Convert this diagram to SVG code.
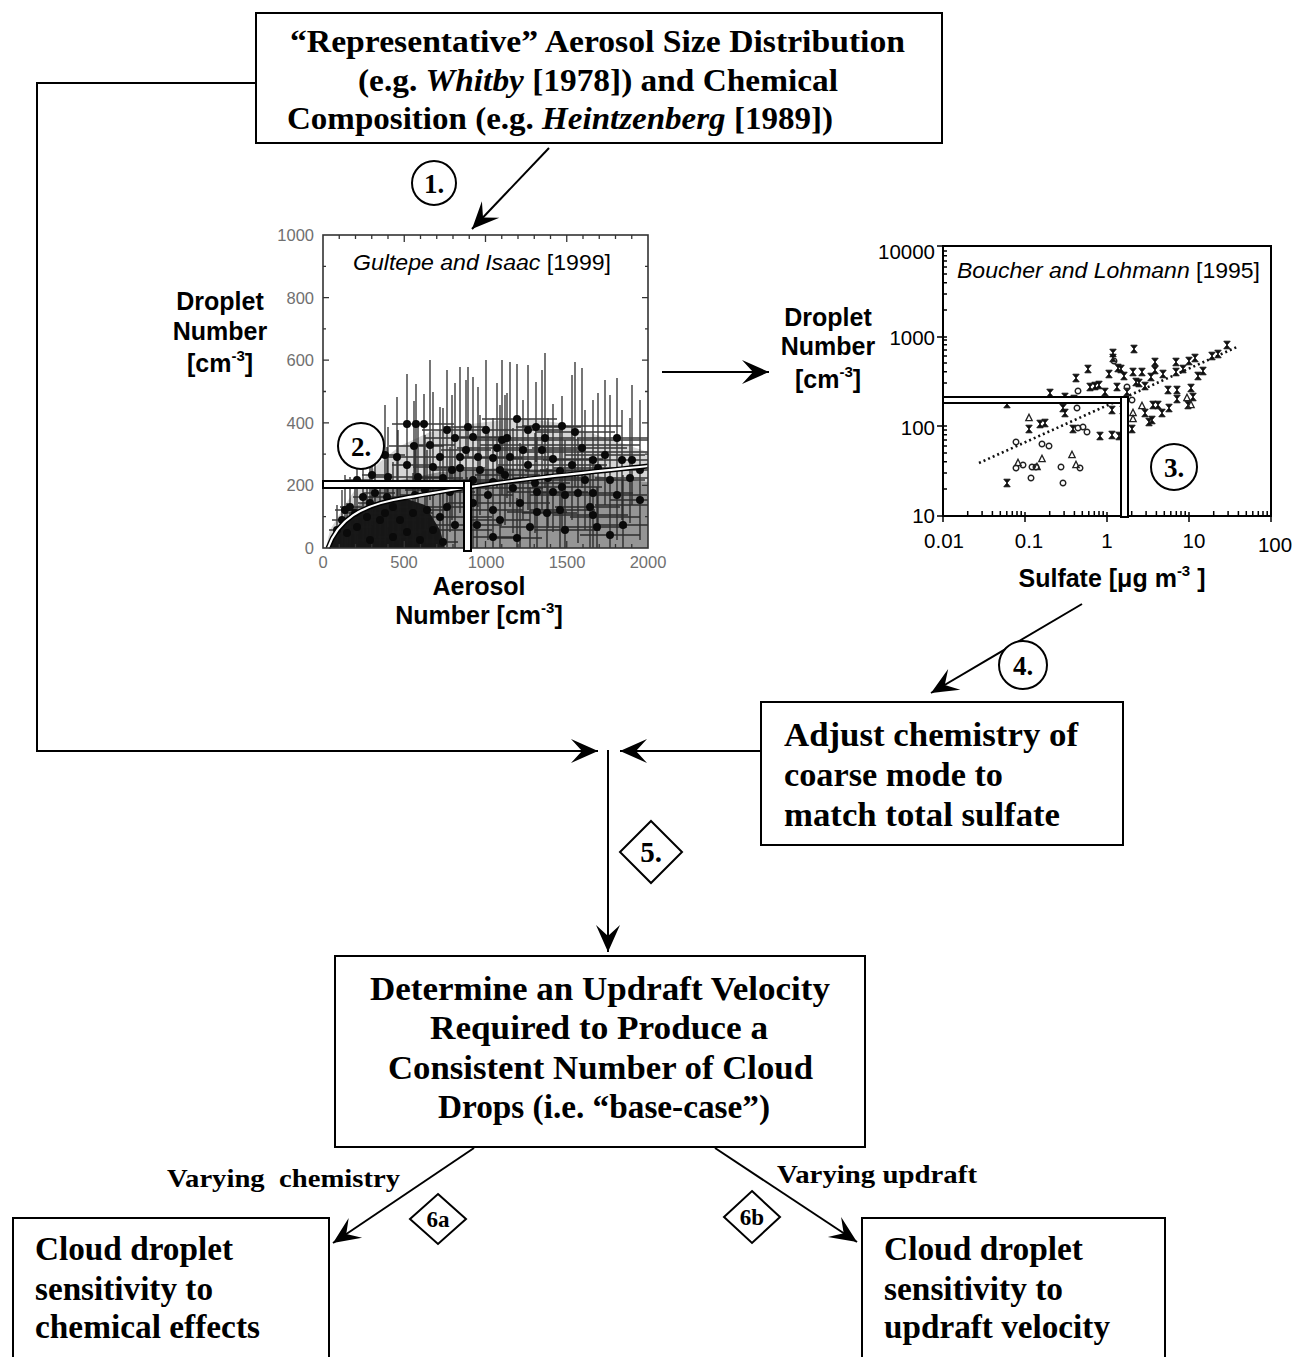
<svg xmlns="http://www.w3.org/2000/svg" xmlns:xlink="http://www.w3.org/1999/xlink" width="1295" height="1357" viewBox="0 0 1295 1357">
<style>
.box{fill:#fff;stroke:#000;stroke-width:2}
.bt{font-family:"Liberation Serif","Times New Roman",serif;font-weight:bold;fill:#000}
.it{font-style:italic}
.conn{fill:none;stroke:#000;stroke-width:2}
.arr{marker-end:url(#ah)}
.badge{fill:#fff;stroke:#000;stroke-width:2}
.sans{font-family:"Liberation Sans",Arial,sans-serif}
.axl{font-family:"Liberation Sans",Arial,sans-serif;font-weight:bold;font-size:25px;fill:#000;text-anchor:middle}
.tk1{font-family:"Liberation Sans",Arial,sans-serif;font-size:16.5px;fill:#707070}
.tk2{font-family:"Liberation Sans",Arial,sans-serif;font-size:20.5px;fill:#000}
.eb{fill:none;stroke:#1a1a1a;stroke-width:1.4;stroke-opacity:0.85}
.dots{fill:none;stroke:#0a0a0a;stroke-width:8;stroke-linecap:round}
.bar{fill:#fff;stroke:#000;stroke-width:2}
</style>
<defs>
<marker id="ah" viewBox="-28 -14 30 28" refX="0" refY="0" markerWidth="30" markerHeight="28" markerUnits="userSpaceOnUse" orient="auto">
<path d="M0,0 L-27,-12 L-16,0 L-27,12 Z" fill="#000"/>
</marker>
<path id="hg" d="M-3.2,-3.8H3.2L-3.2,3.8H3.2Z" fill="#111" stroke="#111" stroke-width="0.9"/>
<circle id="oc" r="2.8" fill="none" stroke="#222" stroke-width="1.4"/>
<path id="tr" d="M0,-3.8L3.2,2.6H-3.2Z" fill="none" stroke="#222" stroke-width="1.3"/>
</defs>

<g id="connectors">
<polyline class="conn arr" points="256,83 37,83 37,751 598,751"/>
<line class="conn arr" x1="549" y1="148" x2="472" y2="229"/>
<line class="conn arr" x1="662" y1="372" x2="769" y2="372"/>
<line class="conn arr" x1="1082" y1="604" x2="931" y2="693"/>
<line class="conn arr" x1="761" y1="751" x2="620" y2="751"/>
<line class="conn arr" x1="608" y1="750" x2="608" y2="952"/>
<line class="conn arr" x1="474" y1="1148" x2="333" y2="1243"/>
<line class="conn arr" x1="715" y1="1148" x2="857" y2="1242"/>
</g>

<g id="node-aerosol-input">
<rect class="box" x="256" y="13" width="686" height="130"/>
<text class="bt" font-size="31" x="290" y="52" textLength="615" lengthAdjust="spacingAndGlyphs">“Representative” Aerosol Size Distribution</text>
<text class="bt" font-size="31" x="358" y="91" textLength="480" lengthAdjust="spacingAndGlyphs">(e.g. <tspan class="it">Whitby</tspan> [1978]) and Chemical</text>
<text class="bt" font-size="31" x="287" y="129" textLength="546" lengthAdjust="spacingAndGlyphs">Composition (e.g. <tspan class="it">Heintzenberg</tspan> [1989])</text>
</g>

<g id="step-1">
<circle class="badge" cx="434" cy="183" r="22"/>
<text class="bt" font-size="27" x="434" y="193" text-anchor="middle">1.</text>
</g>

<g id="node-plot-gultepe">
<path d="M326,548 L330,530 L345,505 L360,482 L380,462 L400,446 L430,432 L470,424 L520,418 L560,423 L600,436 L630,446 L648,452 L648,548 Z" fill="#000" fill-opacity="0.16"/>
<path d="M326,548 L335,530 L352,510 L375,492 L400,480 L440,472 L500,468 L560,470 L610,478 L648,482 L648,548 Z" fill="#000" fill-opacity="0.3"/>
<path d="M326,548 L328,546 C338,520 360,505 404,498 L425,505 L440,530 L445,548 Z" fill="#000" fill-opacity="0.85"/>
<path class="eb" d="M407,374V464M392,424H432M416,384V474M396,424H426M424,394V484M412,424H454M468,367V457M443,427H488M517,364V469M482,419H557M562,396V466M522,426H622M536,382V462M516,427H581M507,393V498M477,438H532M455,383V483M425,438H480M473,377V517M453,437H503M414,401V481M389,446H444M497,383V488M457,448H527M523,400V520M498,450H568M542,370V510M512,450H577M582,368V488M532,448H627M397,397V507M382,457H417M440,407V517M410,457H475M460,367V497M440,457H485M478,387V507M453,457H513M493,418V518M463,458H523M510,362V507M485,457H550M553,404V509M513,459H603M593,400V515M543,460H648M622,410V520M577,460H642M632,385V505M592,460H647M407,425V505M392,465H432M433,392V517M413,467H458M460,398V513M435,468H485M480,415V515M455,470H515M500,405V520M470,470H530M560,426V526M525,471H600M598,393V528M553,468H638M372,425V525M362,475H392M418,422V517M398,477H443M443,408V513M418,478H463M473,435V525M453,480H503M493,422V522M468,482H513M535,433V533M495,483H570M562,422V532M532,487H602M610,395V520M570,480H645M630,418V523M595,478H648M450,447V532M430,492H475M513,428V533M478,488H543M537,437V542M507,492H567M553,452V532M513,492H588M578,438V543M538,493H608M593,448V538M563,493H633M363,457V542M353,497H378M370,458V543M358,503H385M375,438V538M363,493H395M387,447V537M372,497H407M393,462V542M378,507H408M385,473V548M370,513H403M400,480V548M385,520H415M427,450V545M407,510H447M447,452V547M427,507H472M473,453V548M448,503H498M493,465V548M468,510H523M520,443V548M490,503H550M537,462V548M507,512H567M547,468V548M522,513H577M560,455V548M530,510H595M590,457V548M555,507H620M593,470V548M553,515H628M623,475V548M593,525H648M597,487V548M562,527H627M467,485V548M447,530H492M477,485V548M452,525H502M493,502V548M473,537H518M517,498V548M492,538H542M443,512V548M423,542H458M420,505V548M405,540H435M393,507V548M378,537H408M370,515V548M358,540H385M347,503V548M337,533H359M337,505V548M329,530H347M342,490V548M332,520H354M357,497V548M347,527H372M355,478V548M343,513H370M350,477V548M340,507H362M367,482V548M355,517H382M380,485V548M368,520H395M407,502V548M392,532H422M433,495V548M418,530H453M413,473V548M398,513H433M440,472V548M420,517H460M467,477V548M447,517H492M500,440H648M520,452H648M480,445H640M540,470H648M595,505H648M570,517H640M385,405V500M370,455H405M425,435V530M405,490H450M452,395V520M432,470H482M488,430V540M463,495H513M505,395V525M475,475H540M528,365V510M498,465H558M548,418V528M513,478H588M572,375V520M537,465H607M585,410V530M545,480H625M605,380V505M565,455H645M617,435V540M577,495H647M640,445V540M610,500H648M357,440V530M345,480H372M345,475V548M335,510H357M398,430V540M383,485H418M430,360V500M410,445H455M447,370V490M422,430H477M486,360V490M456,430H516M528,370V490M498,430H563M575,362V487M535,432H615M617,378V493M577,438H648M500,480V548M470,520H530M530,487V548M500,527H560M565,485V548M535,530H600M610,495V548M580,535H640M455,485V548M435,525H480M415,450V545M400,495H435M565,440V540M530,495H600M640,400V520M610,470H648M545,353V488M515,438H575M502,360V495M472,440H532M466,380V500M441,450H491M388,427V527M373,477H408"/>
<path class="dots" d="M407,424h0M416,424h0M424,424h0M468,427h0M517,419h0M562,426h0M536,427h0M507,438h0M455,438h0M473,437h0M414,446h0M497,448h0M523,450h0M542,450h0M582,448h0M397,457h0M440,457h0M460,457h0M478,457h0M493,458h0M510,457h0M553,459h0M593,460h0M622,460h0M632,460h0M407,465h0M433,467h0M460,468h0M480,470h0M500,470h0M560,471h0M598,468h0M372,475h0M418,477h0M443,478h0M473,480h0M493,482h0M535,483h0M562,487h0M610,480h0M630,478h0M450,492h0M513,488h0M537,492h0M553,492h0M578,493h0M593,493h0M363,497h0M370,503h0M375,493h0M387,497h0M393,507h0M385,513h0M400,520h0M427,510h0M447,507h0M473,503h0M493,510h0M520,503h0M537,512h0M547,513h0M560,510h0M590,507h0M593,515h0M623,525h0M597,527h0M467,530h0M477,525h0M493,537h0M517,538h0M443,542h0M420,540h0M393,537h0M370,540h0M347,533h0M337,530h0M342,520h0M357,527h0M355,513h0M350,507h0M367,517h0M380,520h0M407,532h0M433,530h0M413,513h0M440,517h0M467,517h0M385,455h0M425,490h0M452,470h0M488,495h0M505,475h0M528,465h0M548,478h0M572,465h0M585,480h0M605,455h0M617,495h0M640,500h0M357,480h0M345,510h0M398,485h0M430,445h0M447,430h0M486,430h0M528,430h0M575,432h0M617,438h0M500,520h0M530,527h0M565,530h0M610,535h0M455,525h0M415,495h0M565,495h0M640,470h0M545,438h0M502,440h0M466,450h0M388,477h0"/>
<path d="M328,548 C338,520 360,505 404,498 C440,492 470,486 520,480 C570,474 610,470 648,466" fill="none" stroke="#000" stroke-width="5"/>
<path d="M328,548 C338,520 360,505 404,498 C440,492 470,486 520,480 C570,474 610,470 648,466" fill="none" stroke="#fff" stroke-width="2.2"/>
<rect x="323" y="235" width="325" height="313" fill="none" stroke="#333" stroke-width="1.6"/>
<path d="M323,516.7h3M323,454.1h3M323,391.5h3M323,328.9h3M323,266.3h3M323,485.4h6M323,422.8h6M323,360.2h6M323,297.6h6M648,516.7h-3M648,454.1h-3M648,391.5h-3M648,328.9h-3M648,266.3h-3M648,485.4h-6M648,422.8h-6M648,360.2h-6M648,297.6h-6M339.25,548v-4M355.5,548v-4M371.75,548v-4M388,548v-4M420.5,548v-4M436.75,548v-4M453,548v-4M469.25,548v-4M501.75,548v-4M518,548v-4M534.25,548v-4M550.5,548v-4M583,548v-4M599.25,548v-4M615.5,548v-4M631.75,548v-4M404.25,548v-7M485.5,548v-7M566.75,548v-7M339.25,235v4M355.5,235v4M371.75,235v4M388,235v4M420.5,235v4M436.75,235v4M453,235v4M469.25,235v4M501.75,235v4M518,235v4M534.25,235v4M550.5,235v4M583,235v4M599.25,235v4M615.5,235v4M631.75,235v4M404.25,235v7M485.5,235v7M566.75,235v7" fill="none" stroke="#333" stroke-width="1.3"/>
<rect class="bar" x="323" y="481" width="142" height="7"/>
<rect class="bar" x="464" y="481" width="7" height="70"/>
<text class="tk1" x="314" y="241" text-anchor="end">1000</text>
<text class="tk1" x="314" y="304" text-anchor="end">800</text>
<text class="tk1" x="314" y="366" text-anchor="end">600</text>
<text class="tk1" x="314" y="429" text-anchor="end">400</text>
<text class="tk1" x="314" y="491" text-anchor="end">200</text>
<text class="tk1" x="314" y="554" text-anchor="end">0</text>
<text class="tk1" x="323" y="568" text-anchor="middle">0</text>
<text class="tk1" x="404" y="568" text-anchor="middle">500</text>
<text class="tk1" x="486" y="568" text-anchor="middle">1000</text>
<text class="tk1" x="567" y="568" text-anchor="middle">1500</text>
<text class="tk1" x="648" y="568" text-anchor="middle">2000</text>
<text class="sans" font-size="22" x="353" y="270" textLength="258" lengthAdjust="spacingAndGlyphs"><tspan class="it">Gultepe and Isaac</tspan> [1999]</text>
<text class="axl" x="220" y="310">Droplet</text>
<text class="axl" x="220" y="340">Number</text>
<text class="axl" x="220" y="372">[cm<tspan font-size="15" dy="-11">-3</tspan><tspan dy="11">]</tspan></text>
<text class="axl" x="479" y="595">Aerosol</text>
<text class="axl" x="479" y="624">Number [cm<tspan font-size="15" dy="-11">-3</tspan><tspan dy="11">]</tspan></text>
</g>

<g id="step-2">
<circle class="badge" cx="361" cy="446" r="23"/>
<text class="bt" font-size="27" x="361" y="456" text-anchor="middle">2.</text>
</g>

<g id="node-plot-boucher">
<rect x="943" y="246" width="328" height="270" fill="none" stroke="#000" stroke-width="2"/>
<path d="M967.7,516v-5M982.1,516v-5M992.4,516v-5M1000.3,516v-5M1006.8,516v-5M1012.3,516v-5M1017,516v-5M1021.2,516v-5M1049.7,516v-5M1064.1,516v-5M1074.4,516v-5M1082.3,516v-5M1088.8,516v-5M1094.3,516v-5M1099,516v-5M1103.2,516v-5M1131.7,516v-5M1146.1,516v-5M1156.4,516v-5M1164.3,516v-5M1170.8,516v-5M1176.3,516v-5M1181,516v-5M1185.2,516v-5M1213.7,516v-5M1228.1,516v-5M1238.4,516v-5M1246.3,516v-5M1252.8,516v-5M1258.3,516v-5M1263,516v-5M1267.2,516v-5M943,522v-6M1025,522v-10M1107,522v-10M1189,522v-10M1271,522v-6M943,488.9h4M943,473.1h4M943,461.8h4M943,453.1h4M943,446h4M943,439.9h4M943,434.7h4M943,430.1h4M943,398.9h4M943,383.1h4M943,371.8h4M943,363.1h4M943,356h4M943,349.9h4M943,344.7h4M943,340.1h4M943,309.9h4M943,294.1h4M943,282.8h4M943,274.1h4M943,267h4M943,260.9h4M943,255.7h4M943,251.1h4M937,246h6M937,337h10M937,426h10M937,516h6" fill="none" stroke="#000" stroke-width="1.5"/>
<line x1="979" y1="463" x2="1237" y2="347" stroke="#111" stroke-width="2.6" stroke-dasharray="2 3"/>
<g>
<use xlink:href="#hg" x="1007" y="483"/><use xlink:href="#hg" x="1007" y="404"/><use xlink:href="#hg" x="1029" y="429"/><use xlink:href="#hg" x="1040" y="424"/><use xlink:href="#hg" x="1045" y="423"/><use xlink:href="#hg" x="1050" y="393"/><use xlink:href="#hg" x="1065" y="397"/><use xlink:href="#hg" x="1065" y="413"/><use xlink:href="#hg" x="1073" y="429"/><use xlink:href="#hg" x="1076" y="378"/><use xlink:href="#hg" x="1088" y="369"/><use xlink:href="#hg" x="1090" y="387"/><use xlink:href="#hg" x="1095" y="386"/><use xlink:href="#hg" x="1099" y="385"/><use xlink:href="#hg" x="1100" y="436"/><use xlink:href="#hg" x="1105" y="392"/><use xlink:href="#hg" x="1109" y="374"/><use xlink:href="#hg" x="1113" y="353"/><use xlink:href="#hg" x="1113" y="358"/><use xlink:href="#hg" x="1112" y="435"/><use xlink:href="#hg" x="1119" y="436"/><use xlink:href="#hg" x="1118" y="368"/><use xlink:href="#hg" x="1121" y="369"/><use xlink:href="#hg" x="1124" y="376"/><use xlink:href="#hg" x="1117" y="387"/><use xlink:href="#hg" x="1127" y="392"/><use xlink:href="#hg" x="1132" y="429"/><use xlink:href="#hg" x="1134" y="349"/><use xlink:href="#hg" x="1133" y="372"/><use xlink:href="#hg" x="1136" y="382"/><use xlink:href="#hg" x="1139" y="383"/><use xlink:href="#hg" x="1142" y="372"/><use xlink:href="#hg" x="1145" y="386"/><use xlink:href="#hg" x="1145" y="413"/><use xlink:href="#hg" x="1149" y="422"/><use xlink:href="#hg" x="1152" y="420"/><use xlink:href="#hg" x="1155" y="362"/><use xlink:href="#hg" x="1155" y="370"/><use xlink:href="#hg" x="1151" y="377"/><use xlink:href="#hg" x="1153" y="405"/><use xlink:href="#hg" x="1158" y="405"/><use xlink:href="#hg" x="1162" y="413"/><use xlink:href="#hg" x="1163" y="374"/><use xlink:href="#hg" x="1168" y="390"/><use xlink:href="#hg" x="1169" y="408"/><use xlink:href="#hg" x="1176" y="362"/><use xlink:href="#hg" x="1176" y="372"/><use xlink:href="#hg" x="1177" y="390"/><use xlink:href="#hg" x="1177" y="399"/><use xlink:href="#hg" x="1183" y="369"/><use xlink:href="#hg" x="1189" y="361"/><use xlink:href="#hg" x="1191" y="388"/><use xlink:href="#hg" x="1193" y="397"/><use xlink:href="#hg" x="1195" y="358"/><use xlink:href="#hg" x="1198" y="376"/><use xlink:href="#hg" x="1203" y="371"/><use xlink:href="#hg" x="1212" y="356"/><use xlink:href="#hg" x="1218" y="354"/><use xlink:href="#hg" x="1227" y="345"/><use xlink:href="#hg" x="1188" y="405"/><use xlink:href="#hg" x="1074" y="399"/><use xlink:href="#hg" x="1063" y="408"/><use xlink:href="#hg" x="1112" y="410"/><use xlink:href="#hg" x="1123" y="410"/>
<use xlink:href="#oc" x="1016" y="442"/><use xlink:href="#oc" x="1016" y="468"/><use xlink:href="#oc" x="1023" y="465"/><use xlink:href="#oc" x="1031" y="478"/><use xlink:href="#oc" x="1032" y="467"/><use xlink:href="#oc" x="1036" y="467"/><use xlink:href="#oc" x="1042" y="444"/><use xlink:href="#oc" x="1049" y="446"/><use xlink:href="#oc" x="1061" y="467"/><use xlink:href="#oc" x="1078" y="391"/><use xlink:href="#oc" x="1077" y="408"/><use xlink:href="#oc" x="1078" y="428"/><use xlink:href="#oc" x="1083" y="427"/><use xlink:href="#oc" x="1087" y="432"/><use xlink:href="#oc" x="1080" y="468"/><use xlink:href="#oc" x="1114" y="361"/><use xlink:href="#oc" x="1127" y="387"/><use xlink:href="#oc" x="1132" y="400"/><use xlink:href="#oc" x="1063" y="483"/>
<use xlink:href="#tr" x="1029" y="418"/><use xlink:href="#tr" x="1042" y="459"/><use xlink:href="#tr" x="1037" y="467"/><use xlink:href="#tr" x="1072" y="455"/><use xlink:href="#tr" x="1076" y="465"/><use xlink:href="#tr" x="1018" y="463"/><use xlink:href="#tr" x="1133" y="413"/><use xlink:href="#tr" x="1133" y="419"/><use xlink:href="#tr" x="1142" y="406"/><use xlink:href="#tr" x="1187" y="398"/><use xlink:href="#tr" x="1191" y="405"/>
</g>
<rect class="bar" x="943" y="397" width="178" height="6"/>
<rect class="bar" x="1121" y="397" width="7" height="120"/>
<text class="tk2" x="935" y="259" text-anchor="end">10000</text>
<text class="tk2" x="935" y="345" text-anchor="end">1000</text>
<text class="tk2" x="935" y="435" text-anchor="end">100</text>
<text class="tk2" x="935" y="523" text-anchor="end">10</text>
<text class="tk2" x="944" y="548" text-anchor="middle">0.01</text>
<text class="tk2" x="1029" y="548" text-anchor="middle">0.1</text>
<text class="tk2" x="1107" y="548" text-anchor="middle">1</text>
<text class="tk2" x="1194" y="548" text-anchor="middle">10</text>
<text class="tk2" x="1275" y="552" text-anchor="middle">100</text>
<text class="sans" font-size="22.5" x="957" y="278" textLength="303" lengthAdjust="spacingAndGlyphs"><tspan class="it">Boucher and Lohmann</tspan> [1995]</text>
<text class="axl" x="828" y="326">Droplet</text>
<text class="axl" x="828" y="355">Number</text>
<text class="axl" x="828" y="388">[cm<tspan font-size="15" dy="-11">-3</tspan><tspan dy="11">]</tspan></text>
<text class="axl" x="1112" y="587">Sulfate [μg m<tspan font-size="15" dy="-11">-3</tspan><tspan dy="11"> ]</tspan></text>
</g>

<g id="step-3">
<circle class="badge" cx="1174" cy="467" r="23"/>
<text class="bt" font-size="27" x="1174" y="477" text-anchor="middle">3.</text>
</g>

<g id="step-4">
<circle class="badge" cx="1023" cy="665" r="24"/>
<text class="bt" font-size="27" x="1023" y="675" text-anchor="middle">4.</text>
</g>

<g id="node-adjust">
<rect class="box" x="761" y="702" width="362" height="143"/>
<text class="bt" font-size="34" x="784" y="746" textLength="294" lengthAdjust="spacingAndGlyphs">Adjust chemistry of</text>
<text class="bt" font-size="34" x="784" y="786" textLength="219" lengthAdjust="spacingAndGlyphs">coarse mode to</text>
<text class="bt" font-size="34" x="784" y="826" textLength="276" lengthAdjust="spacingAndGlyphs">match total sulfate</text>
</g>

<g id="step-5">
<polygon class="badge" points="651,821 682,852 651,883 620,852"/>
<text class="bt" font-size="29" x="651" y="862" text-anchor="middle">5.</text>
</g>

<g id="node-determine">
<rect class="box" x="335" y="956" width="530" height="191"/>
<text class="bt" font-size="34" x="370" y="1000" textLength="460" lengthAdjust="spacingAndGlyphs">Determine an Updraft Velocity</text>
<text class="bt" font-size="34" x="430" y="1039" textLength="338" lengthAdjust="spacingAndGlyphs">Required to Produce a</text>
<text class="bt" font-size="34" x="388" y="1079" textLength="425" lengthAdjust="spacingAndGlyphs">Consistent Number of Cloud</text>
<text class="bt" font-size="34" x="438" y="1118" textLength="332" lengthAdjust="spacingAndGlyphs">Drops (i.e. “base-case”)</text>
</g>

<g id="label-6a">
<text class="bt" font-size="25" x="167" y="1187" textLength="233" lengthAdjust="spacingAndGlyphs" xml:space="preserve">Varying  chemistry</text>
<polygon class="badge" points="438,1194 466,1219 438,1244 410,1219"/>
<text class="bt" font-size="23" x="438" y="1227" text-anchor="middle">6a</text>
</g>

<g id="label-6b">
<text class="bt" font-size="25" x="777" y="1183" textLength="200" lengthAdjust="spacingAndGlyphs">Varying updraft</text>
<polygon class="badge" points="752,1191 780,1217 752,1243 724,1217"/>
<text class="bt" font-size="23" x="752" y="1225" text-anchor="middle">6b</text>
</g>

<g id="node-chemical">
<rect class="box" x="13" y="1218" width="316" height="200"/>
<text class="bt" font-size="34" x="35" y="1260" textLength="198" lengthAdjust="spacingAndGlyphs">Cloud droplet</text>
<text class="bt" font-size="34" x="35" y="1300" textLength="178" lengthAdjust="spacingAndGlyphs">sensitivity to</text>
<text class="bt" font-size="34" x="35" y="1338" textLength="225" lengthAdjust="spacingAndGlyphs">chemical effects</text>
</g>

<g id="node-updraft">
<rect class="box" x="862" y="1218" width="303" height="200"/>
<text class="bt" font-size="34" x="884" y="1260" textLength="199" lengthAdjust="spacingAndGlyphs">Cloud droplet</text>
<text class="bt" font-size="34" x="884" y="1300" textLength="179" lengthAdjust="spacingAndGlyphs">sensitivity to</text>
<text class="bt" font-size="34" x="884" y="1338" textLength="226" lengthAdjust="spacingAndGlyphs">updraft velocity</text>
</g>
</svg>
